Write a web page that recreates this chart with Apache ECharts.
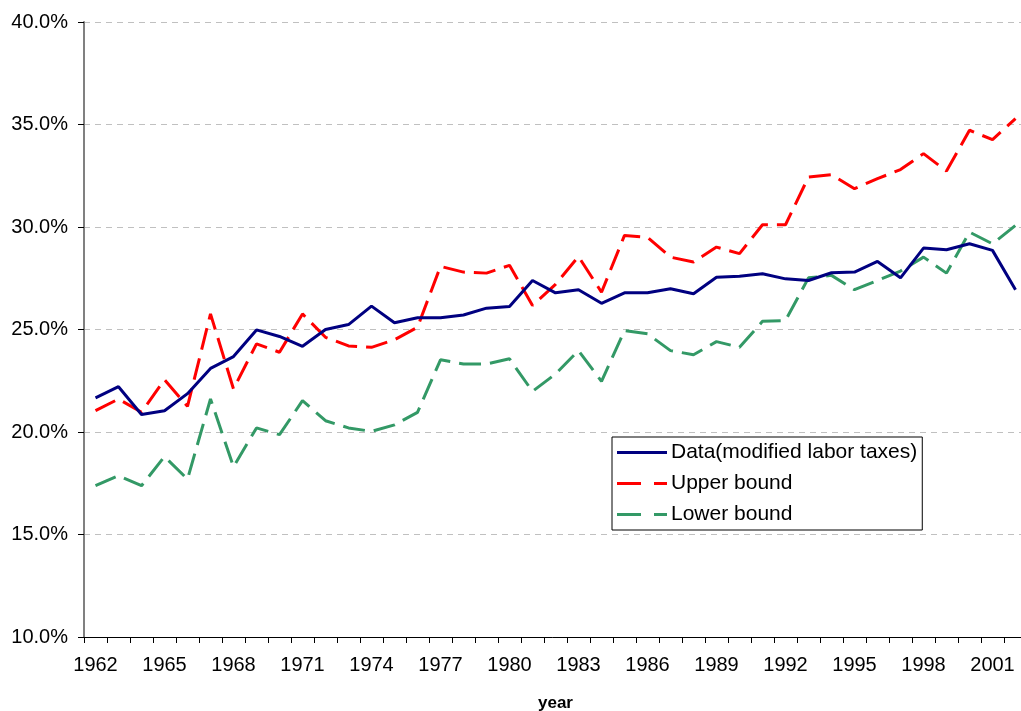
<!DOCTYPE html>
<html>
<head>
<meta charset="utf-8">
<script src="https://cdn.jsdelivr.net/npm/echarts@6/dist/echarts.min.js"></script>
<style>html,body{margin:0;padding:0;background:#fff}#c{width:1021px;height:711px}</style>
</head>
<body>
<div id="c"></div>
<script>
const years = [];
for (let y = 1962; y <= 2002; y++) years.push(String(y));

const dataSeries = [21.66,22.21,20.85,21.04,21.87,23.10,23.68,24.98,24.66,24.18,25.00,25.24,26.14,25.33,25.57,25.57,25.71,26.04,26.12,27.39,26.79,26.94,26.28,26.79,26.79,26.99,26.74,27.55,27.60,27.72,27.47,27.39,27.77,27.80,28.32,27.52,28.97,28.89,29.18,28.86,26.94];
const upperBound = [21.04,21.61,20.96,22.55,21.25,25.76,22.10,24.30,23.89,25.76,24.62,24.20,24.13,24.50,25.11,28.08,27.80,27.75,28.13,26.17,27.20,28.56,26.82,29.59,29.50,28.53,28.29,29.02,28.70,30.11,30.11,32.44,32.55,31.87,32.36,32.80,33.58,32.73,34.72,34.26,35.29];
const lowerBound = [17.38,17.87,17.38,18.80,17.70,21.61,18.30,20.20,19.87,21.53,20.55,20.20,20.03,20.35,20.96,23.52,23.32,23.32,23.57,21.98,22.83,23.97,22.47,24.95,24.79,23.97,23.77,24.41,24.13,25.40,25.44,27.52,27.64,26.94,27.39,27.85,28.53,27.75,29.75,29.18,30.08];
const seriesNames = ['Data(modified labor taxes)', 'Upper bound', 'Lower bound'];
const yTicks = {min: 10, max: 40, interval: 5};

const solidIcon = 'path://M0,0 L50,0 L50,3 L0,3 Z';
const dashIcon = 'path://M0,0 L24,0 L24,3 L0,3 Z M37,0 L50,0 L50,3 L37,3 Z';

const chart = echarts.init(document.getElementById('c'), null, {renderer: 'canvas'});
const font = 'Liberation Sans, Arial, sans-serif';
chart.setOption({
  animation: false,
  backgroundColor: '#ffffff',
  grid: {left: 84, top: 22, width: 943, bottom: 74, containLabel: false, outerBoundsMode: 'none'},
  legend: {
    orient: 'vertical',
    left: 612, top: 437,
    backgroundColor: '#fff',
    borderColor: '#000', borderWidth: 1,
    padding: [5, 5, 5, 5],
    itemWidth: 50, itemHeight: 3, itemGap: 10,
    textStyle: {fontFamily: font, fontSize: 21, lineHeight: 20, color: '#000', padding: [0, 0, 0, -1]},
    data: [
      {name: seriesNames[0], icon: solidIcon},
      {name: seriesNames[1], icon: dashIcon},
      {name: seriesNames[2], icon: dashIcon}
    ]
  },
  xAxis: {
    type: 'category',
    data: years,
    boundaryGap: true,
    name: 'year',
    nameLocation: 'middle',
    nameGap: 58,
    nameTextStyle: {fontFamily: font, fontSize: 17, fontWeight: 'bold', color: '#000'},
    axisLine: {lineStyle: {color: '#000', width: 1}},
    axisTick: {show: true, interval: 0, length: 6, lineStyle: {color: '#000'}},
    axisLabel: {interval: 2, fontFamily: font, fontSize: 20, color: '#000', margin: 18},
    splitLine: {show: false}
  },
  yAxis: {
    type: 'value',
    min: yTicks.min, max: yTicks.max, interval: yTicks.interval,
    axisLine: {show: true, lineStyle: {color: '#808080', width: 2}},
    axisTick: {show: true, length: 6, lineStyle: {color: '#000'}},
    axisLabel: {fontFamily: font, fontSize: 20, color: '#000', margin: 16, formatter: v => v.toFixed(1) + '%'},
    splitLine: {show: true, lineStyle: {color: '#c0c0c0', type: [6, 5], width: 1}}
  },
  series: [
    {name: seriesNames[0], type: 'line', data: dataSeries, symbol: 'none', z: 3,
     lineStyle: {color: '#000080', width: 3}, itemStyle: {color: '#000080'}},
    {name: seriesNames[1], type: 'line', data: upperBound, symbol: 'none', z: 2,
     lineStyle: {color: '#ff0000', width: 3, type: [22, 9]}, itemStyle: {color: '#ff0000'}},
    {name: seriesNames[2], type: 'line', data: lowerBound, symbol: 'none', z: 2,
     lineStyle: {color: '#339966', width: 3, type: [22, 9]}, itemStyle: {color: '#339966'}}
  ]
});
</script>
</body>
</html>
